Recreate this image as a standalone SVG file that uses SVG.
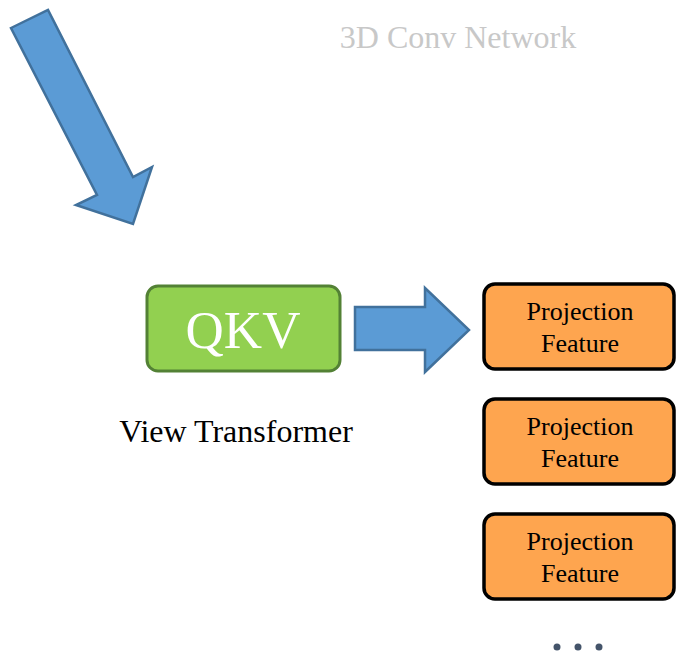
<svg xmlns="http://www.w3.org/2000/svg" width="680" height="656" viewBox="0 0 680 656">
<style>
.arrow{fill:#5b9bd5;stroke:#41719c;stroke-width:2.5;stroke-linejoin:miter}
.proj rect{fill:#fea54f;stroke:#000;stroke-width:3.5}
.proj text{font-family:"Liberation Serif",serif;font-size:26px;fill:#000;text-anchor:middle}
.lbl{font-family:"Liberation Serif",serif;font-size:32px}
</style>
<rect width="680" height="656" fill="#fff"/>
<text class="lbl" x="458" y="48" text-anchor="middle" fill="#c8c8c8">3D Conv Network</text>
<g id="connectors">
<polygon class="arrow" points="11,28 48,10 133,177 152,167 133,224 76,205 97,195"/>
<polygon class="arrow" points="355,307 425,307 425,288 469,330 425,372 425,350 355,350"/>
</g>
<g id="qkv">
<rect x="147" y="286" width="193" height="85" rx="11" fill="#92d050" stroke="#538135" stroke-width="3"/>
<text x="243" y="348" font-family="'Liberation Serif',serif" font-size="53" fill="#fff" text-anchor="middle">QKV</text>
</g>
<g id="view-transformer-label">
<text class="lbl" x="236" y="442" text-anchor="middle" fill="#000">View Transformer</text>
</g>
<g id="proj1" class="proj">
<rect x="484" y="284" width="190" height="85" rx="11"/>
<text x="580" y="320">Projection</text>
<text x="580" y="352">Feature</text>
</g>
<g id="proj2" class="proj">
<rect x="484" y="399" width="190" height="85" rx="11"/>
<text x="580" y="435">Projection</text>
<text x="580" y="467">Feature</text>
</g>
<g id="proj3" class="proj">
<rect x="484" y="514" width="190" height="85" rx="11"/>
<text x="580" y="550">Projection</text>
<text x="580" y="582">Feature</text>
</g>
<g id="dots" fill="#44546a">
<circle cx="557" cy="647" r="3.5"/>
<circle cx="578" cy="647" r="3.5"/>
<circle cx="599" cy="647" r="3.5"/>
</g>
</svg>
